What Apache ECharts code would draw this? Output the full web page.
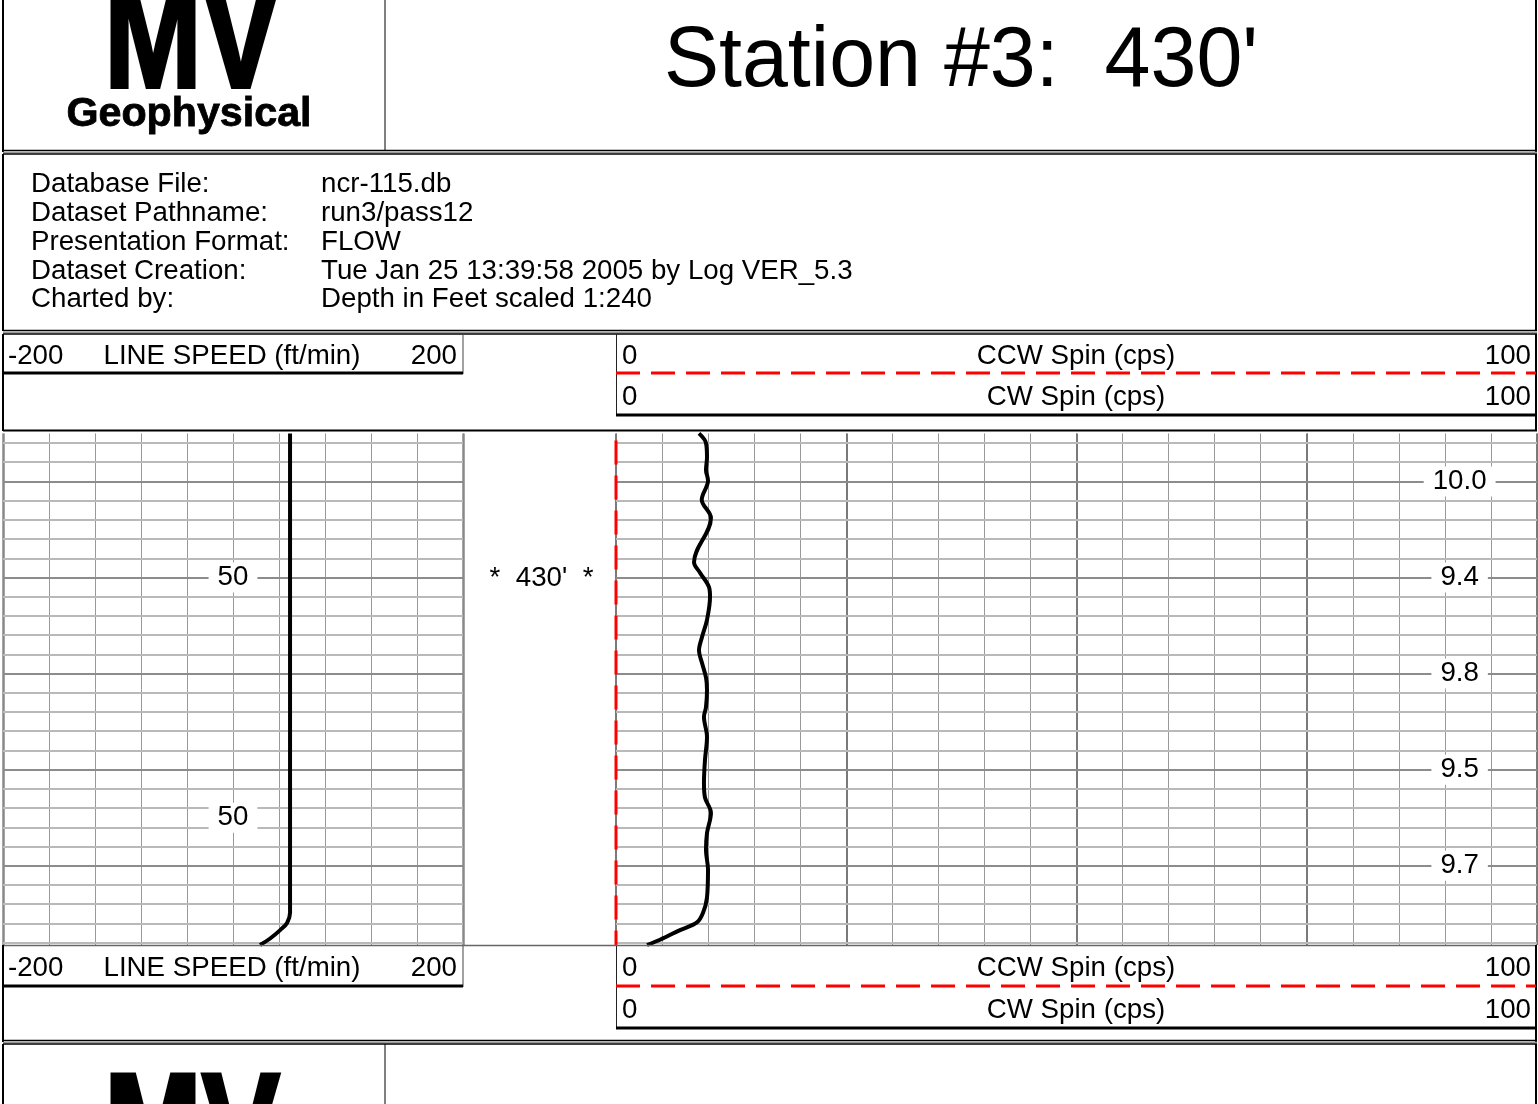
<!DOCTYPE html>
<html><head><meta charset="utf-8">
<script src="https://cdn.jsdelivr.net/npm/echarts@6/dist/echarts.min.js"></script>
<style>html,body{margin:0;padding:0;background:#fff}#c{width:1538px;height:1104px}</style>
</head><body><div id="c"></div>
<script>
const FONT = '"Liberation Sans", Arial, Helvetica, sans-serif';
const FS = 27.7;

// ---------- text content ----------
const titleText = "Station #3:  430'";
const logoBig = 'MV';
const logoSmall = 'Geophysical';
const infoLabels = ['Database File:', 'Dataset Pathname:', 'Presentation Format:', 'Dataset Creation:', 'Charted by:'];
const infoValues = ['ncr-115.db', 'run3/pass12', 'FLOW', 'Tue Jan 25 13:39:58 2005 by Log VER_5.3', 'Depth in Feet scaled 1:240'];
const speedTitle = 'LINE SPEED (ft/min)';
const speedScale = [-200, 200];
const ccwTitle = 'CCW Spin (cps)';
const cwTitle = 'CW Spin (cps)';
const spinScale = [0, 100];
const stationDepth = 430;

// ---------- depth axis ----------
const depthRange = [415, 468.25];
const majorDepths = [420, 430, 440, 450, 460];
const minorStep = 2;

// ---------- series ----------
const lineSpeedDepth = [415, 430, 445, 464.9, 465.95, 466.7, 467.6, 468.25];
const lineSpeedValue = [49.6, 49.6, 49.6, 49.6, 47, 41, 32, 23.5];

const cwSpinDepth = [415, 416, 417.5, 418.8, 419.9, 421.9, 423.8, 428.4, 429.5, 431.0, 432.0, 434.4, 436.2, 437.6, 438.9, 440.4, 441.7, 443.5, 444.5, 446.6, 449.0, 451.4, 452.9, 454.5, 456.6, 458.4, 460.4, 463.3, 464.9, 465.9, 466.7, 467.7, 468.25];
const cwSpinValue = [9.01, 9.77, 9.88, 9.77, 9.99, 9.31, 10.31, 8.47, 9.12, 10.10, 10.21, 9.88, 9.34, 9.01, 9.34, 9.77, 9.88, 9.77, 9.55, 9.88, 9.66, 9.55, 9.66, 10.31, 9.88, 9.77, 9.99, 9.88, 9.45, 8.79, 6.95, 4.78, 3.37];

const ccwSpinDepth = [415, 468.25];
const ccwSpinValue = [0, 0];

// readouts printed on the tracks
const speedReadoutDepth = [430, 455];
const speedReadoutText = ['50', '50'];
const spinReadoutDepth = [420, 430, 440, 450, 460];
const spinReadoutText = ['10.0', '9.4', '9.8', '9.5', '9.7'];

// ---------- helpers ----------
const G = [];
function ln(x1, y1, x2, y2, stroke, w, dash) {
  G.push({type: 'line', silent: true, z: 50, shape: {x1, y1, x2, y2},
    style: {stroke, lineWidth: w, lineDash: dash || null}});
}
function tx(x, y, text, size, align, extra) {
  G.push(Object.assign({type: 'text', silent: true, z: 50, x, y,
    style: Object.assign({text, fontSize: size, fontFamily: FONT, fill: '#000', align, verticalAlign: 'middle'}, (extra && extra.style) || {})},
    extra ? {scaleX: extra.scaleX || 1, scaleY: extra.scaleY || 1} : {}));
}

// ---------- page frame ----------
ln(3, 0, 3, 152, '#000', 2);
ln(1536, 0, 1536, 152, '#000', 2);
ln(385, 0, 385, 151, '#000', 1);
function dbl(y) {
  ln(3, y, 1537, y, '#000', 1.5);
  ln(3, y + 2, 1537, y + 2, '#999', 1.5);
  ln(3, y + 3.5, 1537, y + 3.5, '#000', 1.5);
}
dbl(150.5);
ln(3, 154, 3, 331, '#000', 2);
ln(1536, 154, 1536, 331, '#000', 2);
dbl(330.5);
ln(3, 334, 3, 431, '#000', 2);
ln(1536, 334, 1536, 431, '#000', 2);
ln(3, 430.5, 1537, 430.5, '#000', 2);
ln(463, 334, 463, 374, '#444', 1);
ln(3, 373, 463, 373, '#000', 3);
ln(616.5, 334, 616.5, 416, '#222', 1);
ln(616, 373, 1536, 373, '#ff0000', 3, [24, 11]);
ln(616, 415, 1536, 415, '#000', 3);
ln(3, 945.5, 1537, 945.5, '#666', 1.5);
ln(3, 945, 3, 1042, '#000', 2);
ln(1536, 945, 1536, 1042, '#000', 2);
ln(463, 946, 463, 987, '#444', 1);
ln(3, 986, 463, 986, '#000', 3);
ln(616.5, 946, 616.5, 1029, '#222', 1);
ln(616, 986, 1536, 986, '#ff0000', 3, [24, 11]);
ln(616, 1028, 1536, 1028, '#000', 3);
dbl(1040.5);
ln(3, 1044, 3, 1104, '#000', 2);
ln(1536, 1044, 1536, 1104, '#000', 2);
ln(385, 1044, 385, 1104, '#000', 1);

// ---------- texts ----------
const logoStyle = {fontWeight: 'bold', stroke: '#000', lineWidth: 4};
tx(192, 46, logoBig, 150, 'center', {scaleX: 0.78, style: logoStyle});
tx(189, 115, logoSmall, 40, 'center', {scaleX: 1.03, style: {fontWeight: 'bold', stroke: '#000', lineWidth: 0.8}});
tx(192, 1137, logoBig, 150, 'center', {scaleX: 0.78, style: logoStyle});
tx(961, 62, titleText, 86, 'center', {scaleX: 0.96});

const infoY = [184, 213, 242, 271, 299];
infoLabels.forEach((t, i) => tx(31, infoY[i], t, FS, 'left'));
infoValues.forEach((t, i) => tx(321, infoY[i], t, FS, 'left'));

function trackHeader(y1, y2) {
  tx(8, y1, String(speedScale[0]), FS, 'left');
  tx(232, y1, speedTitle, FS, 'center');
  tx(457, y1, String(speedScale[1]), FS, 'right');
  tx(622, y1, String(spinScale[0]), FS, 'left');
  tx(1076, y1, ccwTitle, FS, 'center');
  tx(1531, y1, String(spinScale[1]), FS, 'right');
  tx(622, y2, String(spinScale[0]), FS, 'left');
  tx(1076, y2, cwTitle, FS, 'center');
  tx(1531, y2, String(spinScale[1]), FS, 'right');
}
trackHeader(356, 397);
trackHeader(968, 1010);

// ---------- grid lines (depth) ----------
function depthLines() {
  const items = [];
  for (let d = Math.ceil(depthRange[0] / minorStep) * minorStep; d <= depthRange[1]; d += minorStep) {
    const major = majorDepths.indexOf(d) >= 0;
    items.push({yAxis: d, lineStyle: {color: major ? '#8c8c8c' : '#b9b9b9', width: 2, type: 'solid'}});
  }
  return items;
}
function gridSeries(xi, yi) {
  return {type: 'line', xAxisIndex: xi, yAxisIndex: yi, data: [], z: 1, silent: true,
    markLine: {silent: true, symbol: ['none', 'none'], label: {show: false}, animation: false,
      emphasis: {disabled: true}, data: depthLines()}};
}
function readoutSeries(xi, yi, xv, depths, texts) {
  return {type: 'scatter', xAxisIndex: xi, yAxisIndex: yi, z: 6, silent: true, symbol: 'rect', symbolSize: 1,
    itemStyle: {color: '#fff', opacity: 1},
    data: depths.map((d, i) => [xv, d, texts[i]]),
    label: {show: true, position: 'inside', formatter: p => p.value[2], color: '#000', fontSize: FS, fontFamily: FONT,
      backgroundColor: '#fff', padding: [1, 9], opacity: 1}};
}

const axBase = {type: 'value', axisLine: {show: false}, axisTick: {show: false}, axisLabel: {show: false}};
const yBase = {type: 'value', inverse: true, min: depthRange[0], max: depthRange[1], show: false};

const chart = echarts.init(document.getElementById('c'), null, {renderer: 'canvas'});
chart.setOption({
  backgroundColor: '#fff',
  animation: false,
  grid: [
    {left: 3, top: 433.4, width: 460, height: 511.6},
    {left: 616, top: 433.4, width: 921, height: 511.6}
  ],
  xAxis: [
    Object.assign({}, axBase, {gridIndex: 0, min: speedScale[0], max: speedScale[1], interval: 40,
      splitLine: {show: true, lineStyle: {color: '#999', width: 1}}}),
    Object.assign({}, axBase, {gridIndex: 0, min: speedScale[0], max: speedScale[1], interval: 400,
      splitLine: {show: true, lineStyle: {color: '#888', width: 2.5}}}),
    Object.assign({}, axBase, {gridIndex: 1, min: spinScale[0], max: spinScale[1], interval: 5,
      splitLine: {show: true, lineStyle: {color: '#999', width: 1}}}),
    Object.assign({}, axBase, {gridIndex: 1, min: spinScale[0], max: spinScale[1], interval: 25,
      splitLine: {show: true, lineStyle: {color: '#7a7a7a', width: 2}}})
  ],
  yAxis: [Object.assign({gridIndex: 0}, yBase), Object.assign({gridIndex: 1}, yBase)],
  graphic: {elements: G.concat([
    {type: 'text', silent: true, z: 50, x: 541.5, y: 578,
     style: {text: '*  ' + stationDepth + "'  *", fontSize: FS, fontFamily: FONT, fill: '#000', align: 'center', verticalAlign: 'middle'}}
  ])},
  series: [
    gridSeries(0, 0),
    gridSeries(2, 1),
    {type: 'line', name: speedTitle, xAxisIndex: 0, yAxisIndex: 0, z: 5, symbol: 'none', smooth: 0.35,
      lineStyle: {color: '#000', width: 4},
      data: lineSpeedDepth.map((d, i) => [lineSpeedValue[i], d])},
    {type: 'line', name: ccwTitle, xAxisIndex: 2, yAxisIndex: 1, z: 5, symbol: 'none', clip: false,
      lineStyle: {color: '#ff0000', width: 3, type: [24, 11], dashOffset: 28},
      data: ccwSpinDepth.map((d, i) => [ccwSpinValue[i], d])},
    {type: 'line', name: cwTitle, xAxisIndex: 2, yAxisIndex: 1, z: 5, symbol: 'none', smooth: 0.35,
      lineStyle: {color: '#000', width: 4},
      data: cwSpinDepth.map((d, i) => [cwSpinValue[i], d])},
    readoutSeries(0, 0, 0, speedReadoutDepth, speedReadoutText),
    readoutSeries(2, 1, 91.6, spinReadoutDepth, spinReadoutText)
  ]
});
</script></body></html>
